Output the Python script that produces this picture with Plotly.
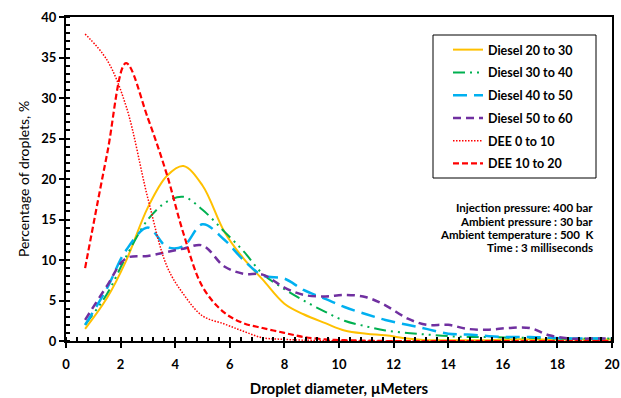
import plotly.graph_objects as go

# ---- data ----
diameter = [0.7, 1.5, 2.2, 3.0, 3.7, 4.3, 5.0, 5.8, 6.5, 7.2, 8.0, 8.7, 9.5, 10.2,
            11.0, 11.7, 12.5, 13.2, 14.0, 14.7, 15.5, 16.2, 17.0, 17.7, 18.5, 19.2, 20.0]

diesel_20_30 = [1.5, 5.3, 9.9, 16.5, 20.4, 21.6, 19.2, 13.5, 10.2, 7.6, 4.6, 3.3, 2.2, 1.3,
                0.9, 0.7, 0.3, 0.1, 0.1, 0.1, 0.1, 0.2, 0.2, 0.2, 0.2, 0.2, 0.2]
diesel_30_40 = [2.0, 5.8, 10.4, 15.0, 17.2, 17.8, 16.2, 13.5, 11.1, 8.3, 6.4, 5.0, 3.6, 2.5,
                1.8, 1.3, 1.0, 0.8, 0.6, 0.5, 0.5, 0.4, 0.4, 0.3, 0.3, 0.3, 0.3]
diesel_40_50 = [2.0, 6.5, 11.2, 14.0, 11.6, 11.7, 14.4, 12.5, 10.0, 8.1, 7.7, 6.3, 5.2, 4.2,
                3.3, 2.6, 2.0, 1.5, 0.9, 0.8, 0.6, 0.5, 0.5, 0.4, 0.3, 0.3, 0.3]
diesel_50_60 = [2.6, 6.8, 10.2, 10.5, 11.0, 11.4, 11.8, 9.2, 8.3, 8.2, 6.6, 5.7, 5.5, 5.7,
                5.4, 4.4, 2.8, 2.0, 2.0, 1.5, 1.4, 1.6, 1.6, 0.7, 0.3, 0.3, 0.3]
dee_0_10 = [37.9, 34.7, 29.0, 17.6, 9.2, 5.8, 3.1, 2.1, 1.2, 0.4, 0.2, 0.1, 0.05, 0.0,
            0.0, 0.0, 0.0, 0.0, 0.0, 0.0, 0.0, 0.0, 0.0, 0.0, 0.0, 0.0, 0.0]
dee_10_20 = [9.0, 23.0, 34.3, 27.5, 20.5, 13.3, 6.7, 3.5, 2.2, 1.6, 1.0, 0.5, 0.2, 0.1,
             0.05, 0.0, 0.0, 0.0, 0.0, 0.0, 0.0, 0.0, 0.0, 0.0, 0.0, 0.0, 0.0]

series_names = ["Diesel 20 to 30", "Diesel 30 to 40", "Diesel 40 to 50",
                "Diesel 50 to 60", "DEE 0 to 10", "DEE 10 to 20"]
series_values = [diesel_20_30, diesel_30_40, diesel_40_50, diesel_50_60, dee_0_10, dee_10_20]
series_colors = ["#FFC000", "#00B050", "#00B0F0", "#7030A0", "#FF0000", "#FF0000"]
series_dash = ["solid", "12px,5px,2px,5px,2px,5px", "14px,7px", "8px,5px", "1.5px,1.5px", "6px,3px"]
series_width = [2, 2, 2.5, 2.5, 1.5, 2.2]

notes = ["Injection pressure: 400 bar", "Ambient pressure : 30 bar",
         "Ambient temperature : 500  K", "Time : 3 milliseconds"]

FONT = "Lato"
W, H = 621, 398
ML, MR, MT, MB = 66, 9, 17, 57
PW, PH = W - ML - MR, H - MT - MB


def px_x(p):
    return (p - ML) / PW


def px_y(p):
    return 1 - (p - MT) / PH


fig = go.Figure()
for name, vals, col, dash, wd in zip(series_names, series_values, series_colors,
                                     series_dash, series_width):
    fig.add_trace(go.Scatter(
        x=diameter, y=vals, name=name, mode="lines", legendgroup=name,
        line=dict(color=col, dash=dash, width=wd, shape="spline", smoothing=1.0),
    ))

axis_common = dict(
    showline=True, linecolor="black", linewidth=2, mirror=True,
    showgrid=False, zeroline=False, ticks="outside", ticklen=5, tickwidth=2,
    tickcolor="black", ticklabeloverflow="allow",
    tickfont=dict(family=FONT, size=13, color="black", weight="bold"),
)

fig.update_xaxes(
    range=[0, 20], dtick=2, tick0=0,
    minor=dict(dtick=0.4, ticks="inside", ticklen=4, tickwidth=1.5, tickcolor="black"),
    ticklabelstandoff=5,
    title=dict(text="<b>Droplet diameter, µMeters</b>", standoff=13,
               font=dict(family=FONT, size=15, color="black")),
    **axis_common,
)
fig.update_yaxes(
    range=[0, 40], dtick=5, tick0=0,
    minor=dict(dtick=1, ticks="inside", ticklen=4, tickwidth=1.5, tickcolor="black"),
    title=dict(text="Percentage of droplets, %", standoff=8,
               font=dict(family=FONT, size=14, color="black")),
    **axis_common,
)

# legend frame
fig.add_shape(type="rect", xref="paper", yref="paper",
              x0=px_x(433), x1=px_x(596), y0=px_y(178), y1=px_y(35),
              line=dict(color="black", width=1), fillcolor="white", layer="below")

for i, t in enumerate(notes):
    fig.add_annotation(
        text="<b>" + t + "</b>", xref="paper", yref="paper",
        x=px_x(595), y=px_y(208 + 13 * i), xanchor="right", yanchor="middle",
        showarrow=False, font=dict(family=FONT, size=11.5, color="black"),
    )

fig.update_layout(
    width=W, height=H,
    margin=dict(l=ML, r=MR, t=MT, b=MB, autoexpand=False),
    plot_bgcolor="white", paper_bgcolor="white",
    font=dict(family=FONT, color="black"),
    legend=dict(
        x=px_x(448), y=px_y(35), xanchor="left", yanchor="top",
        bgcolor="rgba(0,0,0,0)", borderwidth=0,
        font=dict(family=FONT, size=12.5, color="black", weight="bold"),
        tracegroupgap=3.5, itemwidth=30,
    ),
)

fig.write_html("out.html")
